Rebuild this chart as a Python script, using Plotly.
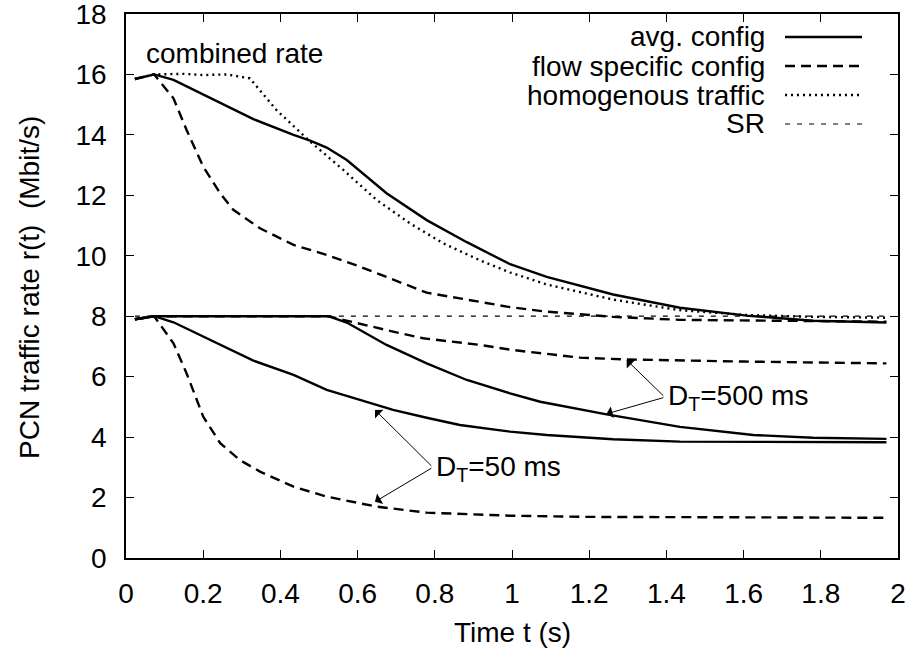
import plotly.graph_objects as go

# ---- data (time in s, rate in Mbit/s) ----
t_avg_comb = [0.023, 0.073, 0.123, 0.192, 0.261, 0.33, 0.434, 0.477, 0.52, 0.572, 0.675, 0.779, 0.883, 0.995, 1.09, 1.262, 1.435, 1.608, 1.78, 1.97]
r_avg_comb = [15.85, 16.0, 15.82, 15.38, 14.94, 14.52, 14.0, 13.81, 13.58, 13.17, 12.07, 11.18, 10.45, 9.72, 9.3, 8.72, 8.28, 8.02, 7.85, 7.79]

t_hom_comb = [0.023, 0.073, 0.15, 0.2, 0.261, 0.321, 0.39, 0.477, 0.563, 0.649, 0.736, 0.822, 0.917, 0.995, 1.09, 1.262, 1.435, 1.608, 1.78, 1.97]
r_hom_comb = [15.85, 16.0, 16.02, 15.98, 16.0, 15.87, 14.82, 13.78, 12.84, 11.85, 11.07, 10.41, 9.85, 9.45, 9.05, 8.55, 8.2, 8.04, 7.98, 7.95]

t_flow_comb = [0.023, 0.073, 0.123, 0.157, 0.2, 0.244, 0.278, 0.347, 0.434, 0.52, 0.606, 0.692, 0.779, 0.865, 0.995, 1.09, 1.262, 1.435, 1.608, 1.78, 1.97]
r_flow_comb = [15.85, 16.0, 15.21, 14.16, 12.95, 12.07, 11.52, 10.91, 10.36, 10.03, 9.64, 9.2, 8.78, 8.59, 8.3, 8.15, 7.98, 7.88, 7.85, 7.84, 7.82]

t_avg_500 = [0.023, 0.073, 0.3, 0.524, 0.572, 0.675, 0.779, 0.883, 0.995, 1.073, 1.245, 1.435, 1.625, 1.78, 1.97]
r_avg_500 = [7.9, 8.0, 8.0, 8.0, 7.79, 7.05, 6.44, 5.89, 5.45, 5.17, 4.75, 4.34, 4.07, 3.98, 3.94]

t_avg_50 = [0.023, 0.073, 0.123, 0.192, 0.261, 0.33, 0.434, 0.52, 0.606, 0.692, 0.779, 0.865, 0.995, 1.09, 1.262, 1.435, 1.97]
r_avg_50 = [7.9, 8.0, 7.8, 7.38, 6.94, 6.53, 6.06, 5.56, 5.23, 4.9, 4.64, 4.4, 4.18, 4.07, 3.93, 3.85, 3.83]

t_flow_500 = [0.023, 0.073, 0.524, 0.572, 0.692, 0.77, 0.917, 1.003, 1.176, 1.297, 1.435, 1.6, 1.78, 1.97]
r_flow_500 = [7.9, 8.0, 8.0, 7.85, 7.49, 7.27, 7.05, 6.88, 6.63, 6.57, 6.53, 6.5, 6.47, 6.44]

t_flow_50 = [0.023, 0.073, 0.123, 0.157, 0.2, 0.244, 0.295, 0.347, 0.434, 0.52, 0.649, 0.779, 0.995, 1.2, 1.5, 1.97]
r_flow_50 = [7.9, 8.0, 7.1, 6.11, 4.68, 3.8, 3.24, 2.86, 2.36, 2.03, 1.70, 1.5, 1.40, 1.36, 1.35, 1.33]

t_sr = [0.023, 1.97]
r_sr = [8.0, 8.0]

legend_names = ["avg. config", "flow specific config", "homogenous traffic", "SR"]
x_ticks = [0, 0.2, 0.4, 0.6, 0.8, 1, 1.2, 1.4, 1.6, 1.8, 2]
y_ticks = [0, 2, 4, 6, 8, 10, 12, 14, 16, 18]

FONT = "Liberation Sans, Arial, Helvetica, sans-serif"
FS = 28
BLACK = "#000000"

SOLID = dict(color=BLACK, width=2.4, dash="solid")
DASHED = dict(color=BLACK, width=2.4, dash="10px,6px")
DOTTED = dict(color=BLACK, width=2.4, dash="2px,4px")
SRLINE = dict(color=BLACK, width=1.2, dash="5px,7px")

fig = go.Figure()
fig.add_trace(go.Scatter(x=t_sr, y=r_sr, mode="lines", line=SRLINE, name=legend_names[3]))
fig.add_trace(go.Scatter(x=t_hom_comb, y=r_hom_comb, mode="lines", line=DOTTED, name=legend_names[2]))
fig.add_trace(go.Scatter(x=t_flow_comb, y=r_flow_comb, mode="lines", line=DASHED, name=legend_names[1]))
fig.add_trace(go.Scatter(x=t_flow_500, y=r_flow_500, mode="lines", line=DASHED, name=legend_names[1]))
fig.add_trace(go.Scatter(x=t_flow_50, y=r_flow_50, mode="lines", line=DASHED, name=legend_names[1]))
fig.add_trace(go.Scatter(x=t_avg_comb, y=r_avg_comb, mode="lines", line=SOLID, name=legend_names[0]))
fig.add_trace(go.Scatter(x=t_avg_500, y=r_avg_500, mode="lines", line=SOLID, name=legend_names[0]))
fig.add_trace(go.Scatter(x=t_avg_50, y=r_avg_50, mode="lines", line=SOLID, name=legend_names[0]))

L, R, T, B = 126, 13, 14, 94
W, H = 911, 652
pw, ph = W - L - R, H - T - B

def px_to_paper_x(px):
    return (px - L) / pw

def px_to_paper_y(py):
    return (H - B - py) / ph

annotations = []
shapes = []

# manual legend (text right-aligned, sample on the right, gnuplot style)
styles = [SOLID, DASHED, DOTTED, SRLINE]
rows_y = [37, 66, 95, 124]
for name, st, ry in zip(legend_names, styles, rows_y):
    annotations.append(dict(text=name, xref="paper", yref="paper", x=px_to_paper_x(767), y=px_to_paper_y(ry),
                            xanchor="right", yanchor="middle", showarrow=False,
                            font=dict(family=FONT, size=FS, color=BLACK)))
    shapes.append(dict(type="line", xref="paper", yref="paper",
                       x0=px_to_paper_x(785), x1=px_to_paper_x(862),
                       y0=px_to_paper_y(ry), y1=px_to_paper_y(ry),
                       line=dict(color=BLACK, width=st["width"], dash=st["dash"])))

# text labels
annotations.append(dict(text="combined rate", x=0.047, y=16.68, xref="x", yref="y", xanchor="left", yanchor="middle",
                        showarrow=False, font=dict(family=FONT, size=FS, color=BLACK)))
annotations.append(dict(text="D<sub>T</sub>=50 ms", x=0.797, y=2.95, xref="x", yref="y", xanchor="left", yanchor="middle",
                        showarrow=False, font=dict(family=FONT, size=FS, color=BLACK)))
annotations.append(dict(text="D<sub>T</sub>=500 ms", x=1.398, y=5.3, xref="x", yref="y", xanchor="left", yanchor="middle",
                        showarrow=False, font=dict(family=FONT, size=FS, color=BLACK)))

# arrows
arrow_specs = [
    ((0.795, 3.0), (0.645, 4.9)),
    ((0.795, 3.0), (0.645, 1.86)),
    ((1.396, 5.32), (1.297, 6.55)),
    ((1.396, 5.32), (1.245, 4.77)),
]
for (tx, ty), (hx, hy) in arrow_specs:
    annotations.append(dict(text="", x=hx, y=hy, ax=tx, ay=ty, xref="x", yref="y", axref="x", ayref="y",
                            showarrow=True, arrowhead=1, arrowsize=2, arrowwidth=1, arrowcolor=BLACK, standoff=0))

# axis titles
annotations.append(dict(text="Time t (s)", xref="paper", yref="paper", x=0.5, y=px_to_paper_y(632),
                        xanchor="center", yanchor="middle", showarrow=False, font=dict(family=FONT, size=FS, color=BLACK)))
annotations.append(dict(text="PCN traffic rate r(t)  (Mbit/s)", xref="paper", yref="paper", x=px_to_paper_x(29),
                        y=px_to_paper_y(288), xanchor="center", yanchor="middle", textangle=-90, showarrow=False,
                        font=dict(family=FONT, size=FS, color=BLACK)))

axis_common = dict(showline=True, linecolor=BLACK, linewidth=1.5, mirror="ticks", ticks="inside", ticklen=8,
                   tickwidth=1.2, tickcolor=BLACK, showgrid=False, zeroline=False, ticklabeloverflow="allow",
                   tickfont=dict(family=FONT, size=FS, color=BLACK))

fig.update_layout(
    width=W, height=H,
    margin=dict(l=L, r=R, t=T, b=B, autoexpand=False),
    paper_bgcolor="white", plot_bgcolor="white",
    showlegend=False,
    font=dict(family=FONT, size=FS, color=BLACK),
    xaxis=dict(range=[0, 2], tickvals=x_ticks, ticktext=[f"{v:g}" for v in x_ticks], ticklabelstandoff=10, **axis_common),
    yaxis=dict(range=[0, 18], tickvals=y_ticks, ticktext=[str(v) for v in y_ticks], ticklabelstandoff=12, **axis_common),
    annotations=annotations,
    shapes=shapes,
)

fig.write_html("out.html")
